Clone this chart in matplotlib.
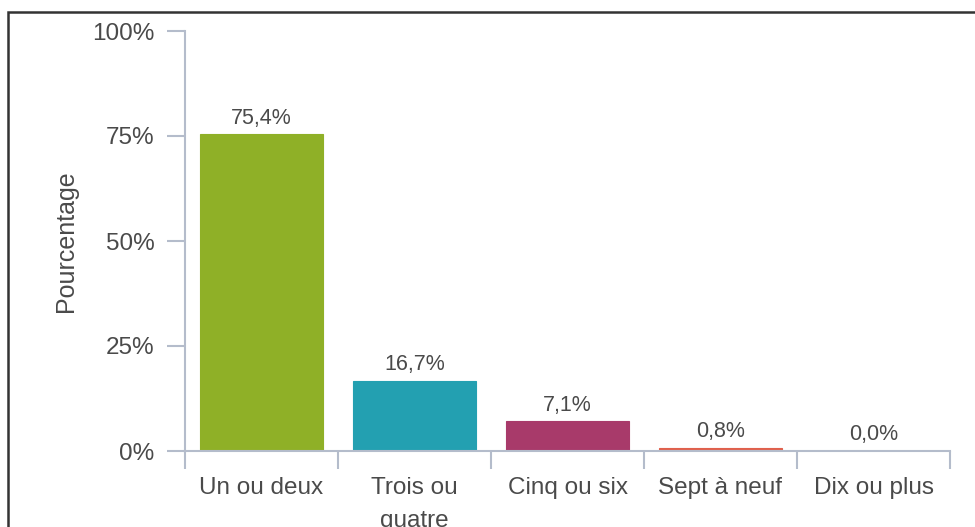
import matplotlib.pyplot as plt
import numpy as np
from matplotlib.patches import Rectangle

plt.rcParams['font.family'] = ['Liberation Sans', 'DejaVu Sans']

categories = ['Un ou deux', 'Trois ou\nquatre', 'Cinq ou six', 'Sept à neuf', 'Dix ou plus']
values = [75.4, 16.7, 7.1, 0.8, 0.0]
value_labels = ['75,4%', '16,7%', '7,1%', '0,8%', '0,0%']
colors = ['#8fb027', '#23a0b1', '#a83a6a', '#e0604c', '#888888']
yticks = [0, 25, 50, 75, 100]
ytick_labels = ['0%', '25%', '50%', '75%', '100%']

axis_col = '#b4bccb'
text_col = '#4a4a4a'

fig = plt.figure(figsize=(9.75, 5.27), dpi=100)
ax = fig.add_axes([185/975, 1 - 451/527, 765/975, 420/527])

x = np.arange(len(categories))
lw = [0.8 if v > 0 else 0 for v in values]
ax.bar(x, values, width=0.8, color=colors, edgecolor=colors, linewidth=lw)

for xi, v, lab in zip(x, values, value_labels):
    ax.annotate(lab, (xi, v), xytext=(0, 4), textcoords='offset points',
                ha='center', va='bottom', fontsize=15.5, color=text_col)

ax.set_xlim(-0.5, len(categories) - 0.5)
ax.set_ylim(0, 100)

ax.set_yticks(yticks)
ax.set_yticklabels(ytick_labels)
ax.set_xticks(x)
ax.set_xticklabels(categories)
ax.set_xticks(np.arange(len(categories) + 1) - 0.5, minor=True)

ax.tick_params(axis='y', direction='out', length=13, width=1.5, color=axis_col,
               labelsize=17.5, labelcolor=text_col, pad=9)
ax.tick_params(axis='x', which='major', length=0, labelsize=17.5,
               labelcolor=text_col, pad=19)
ax.tick_params(axis='x', which='minor', direction='out', length=13, width=1.5,
               color=axis_col)
for lab in ax.get_xticklabels():
    lab.set_linespacing(1.6)
    lab.set_va('top')

for s in ['top', 'right']:
    ax.spines[s].set_visible(False)
for s in ['left', 'bottom']:
    ax.spines[s].set_color(axis_col)
    ax.spines[s].set_linewidth(1.5)

ax.set_ylabel('Pourcentage', fontsize=18, color=text_col)
ax.yaxis.set_label_coords(-107/765, 0.5)

# outer frame of the chart container
fig.patches.append(Rectangle((8/975, -0.2), 1.2, 1.2 - 12/527,
                             transform=fig.transFigure, fill=False,
                             edgecolor='#333333', linewidth=1.8))

fig.savefig('out.png', dpi=100)
